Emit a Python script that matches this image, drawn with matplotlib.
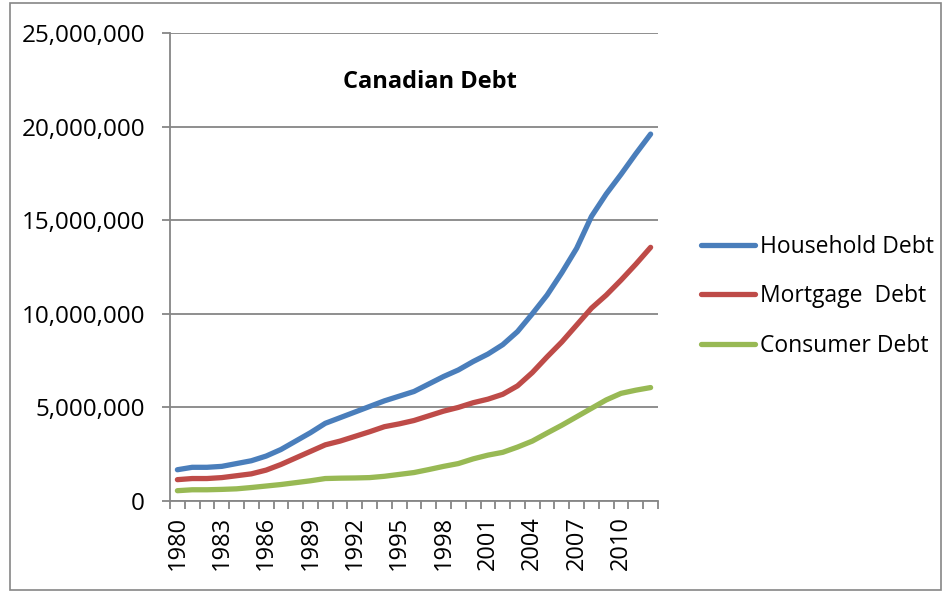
import matplotlib
matplotlib.use("Agg")
import matplotlib.pyplot as plt
from matplotlib.patches import Rectangle
from matplotlib.ticker import FuncFormatter
import numpy as np

years = list(range(1980, 2013))
household = [1.67, 1.80, 1.80, 1.85, 2.00, 2.15, 2.40, 2.75, 3.20, 3.65, 4.15,
             4.45, 4.75, 5.05, 5.35, 5.60, 5.85, 6.25, 6.65, 7.00, 7.45, 7.85,
             8.35, 9.05, 10.0, 11.0, 12.2, 13.5, 15.2, 16.4, 17.45, 18.55, 19.6]
mortgage = [1.14, 1.20, 1.20, 1.25, 1.35, 1.45, 1.65, 1.95, 2.30, 2.65, 3.00,
            3.20, 3.45, 3.70, 3.97, 4.12, 4.30, 4.55, 4.80, 5.00, 5.25, 5.44,
            5.70, 6.15, 6.86, 7.70, 8.50, 9.40, 10.3, 11.0, 11.8, 12.65, 13.55]
consumer = [0.55, 0.60, 0.60, 0.62, 0.65, 0.72, 0.80, 0.88, 0.98, 1.08, 1.20,
            1.22, 1.23, 1.25, 1.32, 1.42, 1.52, 1.68, 1.85, 2.00, 2.25, 2.45,
            2.60, 2.88, 3.20, 3.63, 4.05, 4.50, 4.95, 5.40, 5.75, 5.92, 6.06]
series_names = ["Household Debt", "Mortgage  Debt", "Consumer Debt"]
colors = ["#4A7EBB", "#BE4B48", "#98B954"]
yticks = [0, 5_000_000, 10_000_000, 15_000_000, 20_000_000, 25_000_000]

plt.rcParams['font.family'] = ['Open Sans', 'DejaVu Sans']

fig = plt.figure(figsize=(9.49, 5.93), dpi=100)
W, H = 949, 593
left, right, top, bottom = 170, 658, 33, 501
ax = fig.add_axes([left / W, 1 - bottom / H, (right - left) / W, (bottom - top) / H])

x = np.arange(len(years))
for vals, name, c in zip([household, mortgage, consumer], series_names, colors):
    ax.plot(x, np.array(vals) * 1e6, color=c, lw=3.8, solid_capstyle='round',
            solid_joinstyle='round', label=name)

ax.set_xlim(-0.5, len(years) - 0.5)
ax.set_ylim(0, 25_000_000)
ax.set_yticks(yticks)
ax.yaxis.set_major_formatter(FuncFormatter(lambda v, p: f"{int(v):,}"))
ax.grid(axis='y', color='#868686', lw=1.3)
ax.set_axisbelow(True)

grey = '#868686'
for s in ['top', 'right']:
    ax.spines[s].set_visible(False)
for s in ['left', 'bottom']:
    ax.spines[s].set_color(grey)
    ax.spines[s].set_linewidth(1.3)

ax.set_xticks(np.arange(-0.5, len(years)), labels=[])
ax.tick_params(axis='x', which='major', length=6, color=grey, width=1.3)
ax.set_xticks(x[::3], labels=[str(y) for y in years[::3]], minor=True)
ax.tick_params(axis='x', which='minor', length=0, rotation=90, labelsize=17, pad=11)
ax.tick_params(axis='y', length=6, color=grey, width=1.3, labelsize=17.5, pad=12)

fig.text(430 / W, 1 - 82 / H, "Canadian Debt", fontsize=17, fontweight='bold',
         ha='center', va='center')

leg = ax.legend(loc='center left', bbox_to_anchor=(1.045, 0.437), frameon=False,
                fontsize=16.5, handlelength=2.36, handletextpad=0.22, labelspacing=1.1)

fig.patches.append(Rectangle((10 / W, 1 - 590 / H), 931 / W, 587 / H,
                             transform=fig.transFigure, fill=False,
                             edgecolor='#868686', lw=1.2))

fig.savefig("out.png", dpi=100)
